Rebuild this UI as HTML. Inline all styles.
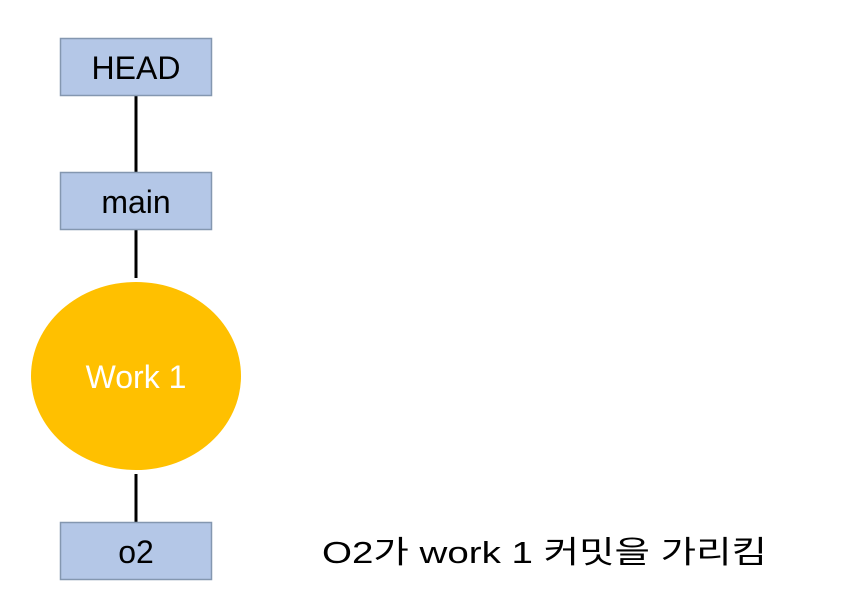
<!DOCTYPE html>
<html><head><meta charset="utf-8"><style>
html,body{margin:0;padding:0;background:#fff;width:845px;height:596px;overflow:hidden}
svg{display:block}
text{font-family:"Liberation Sans","Noto Sans CJK KR",sans-serif}
</style></head><body>
<svg width="845" height="596" viewBox="0 0 845 596" xmlns="http://www.w3.org/2000/svg">
<g stroke="#000" stroke-width="3">
<line x1="136" y1="96" x2="136" y2="172"/>
<line x1="136" y1="230" x2="136" y2="278"/>
<line x1="136" y1="474" x2="136" y2="522"/>
</g>
<g fill="#b4c7e7" stroke="#8497b0" stroke-width="1.5">
<rect x="60.5" y="38.5" width="151" height="57"/>
<rect x="60.5" y="172.5" width="151" height="57"/>
<rect x="60.5" y="522.5" width="151" height="57"/>
</g>
<ellipse cx="136" cy="376" rx="105" ry="94" fill="#ffc000"/>
<g font-size="32" text-anchor="middle" fill="#000">
<text x="136" y="79">HEAD</text>
<text x="136" y="213">main</text>
<text x="136" y="563">o2</text>
<text x="136" y="388" fill="#fff">Work 1</text>
</g>
<text x="322" y="563" font-size="31" textLength="445" lengthAdjust="spacingAndGlyphs">O2가 work 1 커밋을 가리킴</text>
</svg>
</body></html>
